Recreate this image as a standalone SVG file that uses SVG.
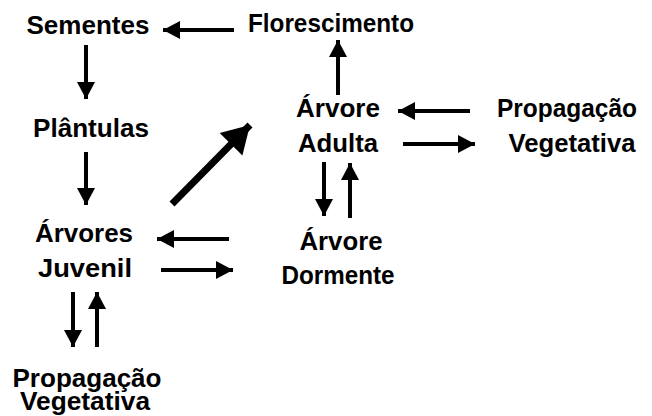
<svg xmlns="http://www.w3.org/2000/svg" width="652" height="416" viewBox="0 0 652 416">
<style>
text{font-family:"Liberation Sans",Arial,sans-serif;font-weight:bold;font-size:25px;fill:#000;text-anchor:middle}
.c{stroke:#000;stroke-width:4;fill:none;marker-end:url(#ah)}
.big{stroke:#000;stroke-width:7;fill:none;marker-end:url(#ahb)}
</style>
<defs>
<marker id="ah" markerUnits="userSpaceOnUse" markerWidth="18" markerHeight="20" refX="17" refY="9" orient="auto" viewBox="0 0 18 18" overflow="visible">
<path d="M0,0 L17,9 L0,18 Z" fill="#000"/>
</marker>
<marker id="ahb" markerUnits="userSpaceOnUse" markerWidth="30" markerHeight="32" refX="27" refY="16" orient="auto" viewBox="0 0 30 32" overflow="visible">
<path d="M0,0 L27,16 L0,32 Z" fill="#000"/>
</marker>
</defs>
<g id="sementes"><text x="88" y="34" textLength="123" lengthAdjust="spacingAndGlyphs">Sementes</text></g>
<g id="florescimento"><text x="331" y="32" textLength="166" lengthAdjust="spacingAndGlyphs">Florescimento</text></g>
<g id="plantulas"><text x="91" y="137" textLength="116" lengthAdjust="spacingAndGlyphs">Plântulas</text></g>
<g id="arvore-adulta"><text x="338" y="117" textLength="84" lengthAdjust="spacingAndGlyphs">Árvore</text><text x="338" y="152" textLength="80" lengthAdjust="spacingAndGlyphs">Adulta</text></g>
<g id="propagacao-adulta"><text x="567" y="117" textLength="140" lengthAdjust="spacingAndGlyphs">Propagação</text><text x="572" y="152" textLength="127" lengthAdjust="spacingAndGlyphs">Vegetativa</text></g>
<g id="arvores-juvenil"><text x="84" y="242" textLength="98" lengthAdjust="spacingAndGlyphs">Árvores</text><text x="85" y="277" textLength="94" lengthAdjust="spacingAndGlyphs">Juvenil</text></g>
<g id="arvore-dormente"><text x="341" y="250" textLength="83" lengthAdjust="spacingAndGlyphs">Árvore</text><text x="338" y="284" textLength="113" lengthAdjust="spacingAndGlyphs">Dormente</text></g>
<g id="propagacao-juvenil"><text x="87" y="387" textLength="149" lengthAdjust="spacingAndGlyphs">Propagação</text><text x="85" y="410" textLength="130" lengthAdjust="spacingAndGlyphs">Vegetativa</text></g>
<g id="connectors">
<line class="c" x1="234" y1="30" x2="163" y2="30"/>
<line class="c" x1="86" y1="45" x2="86" y2="99"/>
<line class="c" x1="86" y1="152" x2="86" y2="205"/>
<line class="big" x1="172" y1="204" x2="250" y2="125"/>
<line class="c" x1="338" y1="95" x2="338" y2="40"/>
<line class="c" x1="470" y1="111" x2="398" y2="111"/>
<line class="c" x1="403" y1="144" x2="475" y2="144"/>
<line class="c" x1="324" y1="162" x2="324" y2="216"/>
<line class="c" x1="350" y1="218" x2="350" y2="163"/>
<line class="c" x1="229" y1="239" x2="157" y2="239"/>
<line class="c" x1="161" y1="270" x2="233" y2="270"/>
<line class="c" x1="73" y1="292" x2="73" y2="347"/>
<line class="c" x1="97" y1="347" x2="97" y2="292"/>
</g>
</svg>
